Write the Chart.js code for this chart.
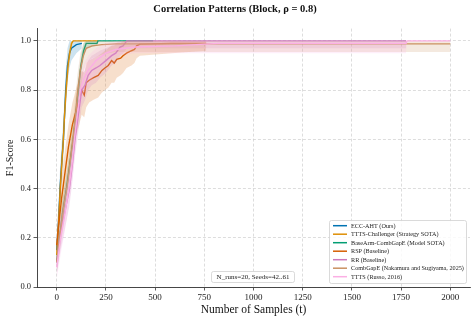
<!DOCTYPE html>
<html>
<head>
<meta charset="utf-8">
<script src="https://cdn.jsdelivr.net/npm/chart.js@4/dist/chart.umd.min.js"></script>
<style>
  html, body { margin: 0; padding: 0; background: #fff; }
  canvas { display: block; }
</style>
</head>
<body>
<canvas id="f1Chart" width="476" height="321"></canvas>
<script>
// series names (legend order) and colours
const seriesNames = [
  "ECC-AHT (Ours)",
  "TTTS-Challenger (Strategy SOTA)",
  "BaseArm-CombGapE (Model SOTA)",
  "RSP (Baseline)",
  "RR (Baseline)",
  "CombGapE (Nakamura and Sugiyama, 2025)",
  "TTTS (Russo, 2016)"
];
const seriesColors = ["#0173b2", "#de8f05", "#029e73", "#d55e00", "#cc78bc", "#ca9161", "#fbafe4"];

// x ticks / y ticks
const xTicks = [0, 250, 500, 750, 1000, 1250, 1500, 1750, 2000];
const yTicks = [0, 0.2, 0.4, 0.6, 0.8, 1.0];

// ECC-AHT
const eccX    = [0, 10, 17, 25, 34, 40, 46, 55, 65, 75, 100, 128];
const eccMean = [0.15, 0.27, 0.4, 0.5, 0.6, 0.7, 0.8, 0.9, 0.95, 0.97, 0.985, 0.99];
const eccLo   = [0.09, 0.2, 0.32, 0.42, 0.52, 0.62, 0.72, 0.83, 0.89, 0.92, 0.95, 0.97];
const eccHi   = [0.21, 0.34, 0.48, 0.58, 0.68, 0.78, 0.88, 0.97, 1.0, 1.0, 1.0, 1.0];

// TTTS-Challenger
const chX    = [0, 10, 18, 26, 34, 40, 48, 58, 68, 76, 84, 210];
const chMean = [0.13, 0.26, 0.4, 0.5, 0.6, 0.7, 0.8, 0.9, 0.96, 0.99, 1.0, 1.0];
const chLo   = [0.09, 0.21, 0.35, 0.45, 0.55, 0.65, 0.75, 0.86, 0.93, 0.98, 1.0, 1.0];
const chHi   = [0.17, 0.31, 0.45, 0.55, 0.65, 0.75, 0.85, 0.94, 0.99, 1.0, 1.0, 1.0];

// BaseArm-CombGapE
const baX    = [0, 15, 30, 50, 67, 84, 97, 110, 123, 137, 150, 205, 210, 490];
const baMean = [0.1, 0.2, 0.3, 0.4, 0.5, 0.6, 0.7, 0.8, 0.9, 0.96, 0.99, 0.99, 1.0, 1.0];
const baLo   = [0.06, 0.15, 0.25, 0.35, 0.45, 0.55, 0.65, 0.75, 0.86, 0.93, 0.97, 0.98, 1.0, 1.0];
const baHi   = [0.14, 0.25, 0.35, 0.45, 0.55, 0.65, 0.75, 0.85, 0.94, 0.99, 1.0, 1.0, 1.0, 1.0];

// RSP
const rspX    = [0, 10, 25, 43, 60, 80, 100, 115, 127, 140, 150, 165, 185, 211, 230, 245, 262, 279, 292, 305, 325, 337, 355, 380, 395, 406, 423, 584, 760];
const rspMean = [0.17, 0.25, 0.36, 0.47, 0.57, 0.66, 0.72, 0.76, 0.8, 0.78, 0.83, 0.84, 0.85, 0.86, 0.88, 0.89, 0.9, 0.92, 0.91, 0.925, 0.93, 0.94, 0.95, 0.96, 0.965, 0.98, 0.987, 0.99, 0.99];
const rspLo   = [0.1, 0.17, 0.27, 0.38, 0.47, 0.56, 0.62, 0.66, 0.7, 0.69, 0.73, 0.75, 0.76, 0.77, 0.79, 0.8, 0.81, 0.83, 0.83, 0.85, 0.86, 0.87, 0.89, 0.9, 0.91, 0.93, 0.94, 0.95, 0.96];
const rspHi   = [0.24, 0.33, 0.45, 0.56, 0.66, 0.75, 0.81, 0.85, 0.88, 0.87, 0.91, 0.92, 0.93, 0.94, 0.95, 0.96, 0.97, 0.98, 0.98, 0.99, 0.99, 1.0, 1.0, 1.0, 1.0, 1.0, 1.0, 1.0, 1.0];

// RR
const rrX    = [0, 20, 40, 65, 80, 93, 110, 127, 144, 160, 178, 200, 220, 250, 279, 300, 322, 337, 356, 1775];
const rrMean = [0.1, 0.22, 0.3, 0.4, 0.5, 0.6, 0.7, 0.8, 0.82, 0.86, 0.88, 0.89, 0.9, 0.92, 0.94, 0.95, 0.975, 0.98, 1.0, 1.0];
const rrLo   = [0.05, 0.15, 0.23, 0.33, 0.43, 0.53, 0.63, 0.73, 0.76, 0.8, 0.82, 0.83, 0.85, 0.87, 0.9, 0.91, 0.94, 0.95, 0.97, 0.97];
const rrHi   = [0.15, 0.28, 0.37, 0.47, 0.57, 0.67, 0.77, 0.87, 0.88, 0.92, 0.94, 0.95, 0.96, 0.97, 0.98, 0.99, 1.0, 1.0, 1.0, 1.0];

// CombGapE
const cgX    = [0, 15, 35, 55, 75, 90, 105, 120, 135, 150, 180, 230, 300, 2000];
const cgMean = [0.1, 0.2, 0.32, 0.42, 0.55, 0.65, 0.78, 0.88, 0.94, 0.97, 0.98, 0.985, 0.988, 0.988];
const cgLo   = [0.05, 0.14, 0.25, 0.35, 0.47, 0.57, 0.7, 0.8, 0.87, 0.91, 0.93, 0.945, 0.955, 0.955];
const cgHi   = [0.15, 0.26, 0.39, 0.49, 0.63, 0.73, 0.86, 0.95, 0.99, 1.0, 1.0, 1.0, 1.0, 1.0];

// TTTS
const ttX    = [0, 20, 40, 62, 78, 90, 105, 120, 140, 160, 200, 250, 300, 400, 600, 820, 1775, 1780, 2000];
const ttMean = [0.08, 0.2, 0.29, 0.4, 0.5, 0.6, 0.7, 0.8, 0.85, 0.88, 0.92, 0.95, 0.965, 0.975, 0.98, 0.99, 0.99, 1.0, 1.0];
const ttLo   = [0.03, 0.13, 0.22, 0.33, 0.43, 0.53, 0.63, 0.73, 0.79, 0.82, 0.87, 0.91, 0.94, 0.95, 0.95, 0.95, 0.95, 1.0, 1.0];
const ttHi   = [0.13, 0.27, 0.36, 0.47, 0.57, 0.67, 0.77, 0.87, 0.91, 0.94, 0.97, 0.99, 1.0, 1.0, 1.0, 1.0, 1.0, 1.0, 1.0];

const allSeries = [
  [eccX, eccMean, eccLo, eccHi],
  [chX, chMean, chLo, chHi],
  [baX, baMean, baLo, baHi],
  [rspX, rspMean, rspLo, rspHi],
  [rrX, rrMean, rrLo, rrHi],
  [cgX, cgMean, cgLo, cgHi],
  [ttX, ttMean, ttLo, ttHi]
];

const pts = (xs, ys) => xs.map((x, i) => ({ x: x, y: ys[i] }));
function withAlpha(hex, a) {
  const n = parseInt(hex.slice(1), 16);
  return `rgba(${(n >> 16) & 255},${(n >> 8) & 255},${n & 255},${a})`;
}

// build datasets: band low, band high (filled to low), then the mean line
const datasets = [];
allSeries.forEach(([xs, mean, lo, hi], k) => {
  const col = seriesColors[k];
  const base = datasets.length;
  const ord = 100 - k * 3;
  datasets.push({ data: pts(xs, lo), borderWidth: 0, pointRadius: 0, fill: false, order: ord });
  datasets.push({ data: pts(xs, hi), borderWidth: 0, pointRadius: 0, fill: base,
                  backgroundColor: withAlpha(col, 0.2), order: ord - 1 });
  datasets.push({ label: seriesNames[k], data: pts(xs, mean), borderColor: col, borderWidth: 1.4,
                  pointRadius: 0, fill: false, tension: 0, order: ord - 2 });
});

const serif = "'Liberation Serif', 'DejaVu Serif', serif";

// legend box and annotation, drawn in the lower right like matplotlib
const boxesPlugin = {
  id: "boxes",
  afterDraw(chart) {
    const ctx = chart.ctx;
    ctx.save();
    // legend
    ctx.fillStyle = "rgba(255,255,255,0.85)";
    ctx.strokeStyle = "#d0d0d0";
    ctx.lineWidth = 0.8;
    ctx.beginPath();
    ctx.roundRect(329.5, 220.5, 137, 63, 2);
    ctx.fill();
    ctx.stroke();
    ctx.font = `6.2px ${serif}`;
    ctx.textBaseline = "middle";
    seriesNames.forEach((name, i) => {
      const y = 225.7 + i * 8.5;
      ctx.strokeStyle = seriesColors[i];
      ctx.lineWidth = 1.5;
      ctx.beginPath();
      ctx.moveTo(333, y);
      ctx.lineTo(347, y);
      ctx.stroke();
      ctx.fillStyle = "#222";
      ctx.fillText(name, 351, y + 0.3);
    });
    // run info
    ctx.fillStyle = "rgba(255,255,255,0.85)";
    ctx.strokeStyle = "#d0d0d0";
    ctx.lineWidth = 0.8;
    ctx.beginPath();
    ctx.roundRect(211.5, 271.5, 83, 11, 2);
    ctx.fill();
    ctx.stroke();
    ctx.fillStyle = "#222";
    ctx.font = `7px ${serif}`;
    ctx.textAlign = "center";
    ctx.fillText("N_runs=20, Seeds=42..61", 253, 277.3);
    ctx.restore();
  }
};

new Chart(document.getElementById("f1Chart").getContext("2d"), {
  type: "line",
  data: { datasets: datasets },
  plugins: [boxesPlugin],
  options: {
    responsive: false,
    animation: false,
    layout: { padding: { left: 0, right: 6, top: 0, bottom: 0 } },
    plugins: {
      legend: { display: false },
      tooltip: { enabled: false },
      title: {
        display: true,
        text: "Correlation Patterns (Block, ρ = 0.8)",
        color: "#111",
        font: { family: serif, size: 10.5, weight: "bold" },
        padding: { top: 3, bottom: 13 }
      }
    },
    scales: {
      x: {
        type: "linear",
        min: -100,
        max: 2100,
        afterBuildTicks: (s) => { s.ticks = xTicks.map((v) => ({ value: v })); },
        afterFit: (s) => { s.height = 34; },
        ticks: { color: "#222", font: { family: serif, size: 9 }, padding: 2, maxRotation: 0,
                 callback: (v) => String(v) },
        grid: { color: "#cfcfcf", lineWidth: 0.7, tickColor: "#333", tickLength: 3.5, tickWidth: 0.8, tickBorderDash: [] },
        border: { color: "#333", width: 0.9, dash: [3, 2] },
        title: { display: true, text: "Number of Samples (t)", color: "#111",
                 font: { family: serif, size: 11.5 }, padding: { top: 2, bottom: 4 } }
      },
      y: {
        min: 0,
        max: 1.05,
        afterBuildTicks: (s) => { s.ticks = yTicks.map((v) => ({ value: v })); },
        afterFit: (s) => { s.width = 37; },
        ticks: { color: "#222", font: { family: serif, size: 8.5 }, padding: 2.5,
                 callback: (v) => v.toFixed(1) },
        grid: { color: "#cfcfcf", lineWidth: 0.7, tickColor: "#333", tickLength: 3.5, tickWidth: 0.8, tickBorderDash: [] },
        border: { color: "#333", width: 0.9, dash: [3, 2] },
        title: { display: true, text: "F1-Score", color: "#111",
                 font: { family: serif, size: 10 }, padding: { top: 4, bottom: 2 } }
      }
    }
  }
});
</script>
</body>
</html>
